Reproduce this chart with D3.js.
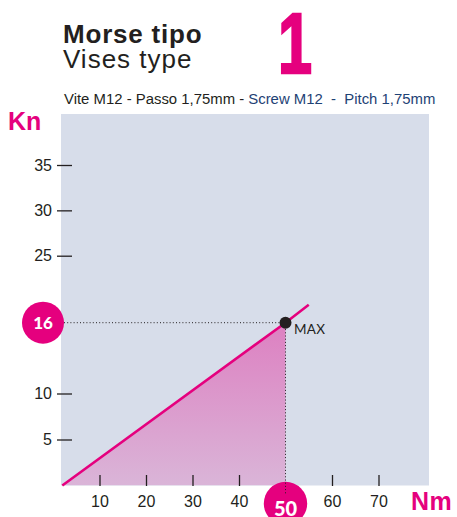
<!DOCTYPE html>
<html>
<head>
<meta charset="utf-8">
<script src="https://cdn.jsdelivr.net/npm/d3@7/dist/d3.min.js"></script>
<style>
  html, body { margin: 0; padding: 0; background: #ffffff; }
  svg { display: block; }
  text { font-family: 'Liberation Sans', Arial, sans-serif; }
  .narrow { font-family: 'Liberation Sans Narrow', 'Arial Narrow', 'Liberation Sans', sans-serif; }
  .round { font-family: 'Lato', 'DejaVu Sans', sans-serif; }
</style>
</head>
<body>
<svg id="chart" width="457" height="517"></svg>
<script>
// Load curve of the vise: clamping force (Kn) against screw torque (Nm)
const xTicks = [10, 20, 30, 40, 60, 70];
const yTicks = [5, 10, 25, 30, 35];
const lineTorque = [2, 50, 55];      // Nm
const lineForce  = [0, 16, 18.4];    // Kn
const maxTorque = 50;
const maxForce = 16;

const titleLines = ["Morse tipo", "Vises type"];
const modelNumber = "1";
const subtitleIt = "Vite M12 - Passo 1,75mm - ";
const subtitleEn = "Screw M12  -  Pitch 1,75mm";
const yUnit = "Kn";
const xUnit = "Nm";

const PINK = "#e5007e";
const INK = "#231f20";
const NAVY = "#1e4275";

const svg = d3.select("#chart");

// plot frame
const plot = { left: 61, top: 114, right: 429, bottom: 485.5 };

const x = d3.scaleLinear().domain([0, 70]).range([53, 378.5]);
// the force axis is drawn schematically: the rated point sits higher than a uniform scale would put it
const y = d3.scaleLinear()
  .domain([0, 10, maxForce, 25, 35])
  .range([485.5, 393.5, 322.7, 255.7, 165]);

// titles
svg.append("text").attr("x", 63).attr("y", 43.3)
  .attr("font-weight", 700)
  .attr("font-size", 26).attr("letter-spacing", 0.8).attr("fill", INK).text(titleLines[0]);
svg.append("text").attr("x", 63).attr("y", 68)
  .attr("font-weight", 400)
  .attr("font-size", 26).attr("letter-spacing", 1.0).attr("fill", INK).text(titleLines[1]);
// big model number, narrowed to a condensed heavy figure
svg.append("text")
  .attr("transform", "translate(295,73) scale(0.72,1)")
  .attr("text-anchor", "middle")
  .attr("font-weight", 700)
  .attr("font-size", 85).attr("fill", PINK)
  .attr("stroke", PINK).attr("stroke-width", 2.5).attr("stroke-linejoin", "miter")
  .text(modelNumber);

const sub = svg.append("text").attr("x", 64).attr("y", 104)
  .attr("font-size", 14.9);
sub.append("tspan").attr("fill", INK).text(subtitleIt);
sub.append("tspan").attr("fill", NAVY).attr("xml:space", "preserve").text(subtitleEn);

// axis unit labels
svg.append("text").attr("x", 8).attr("y", 130)
  .attr("font-weight", 700)
  .attr("font-size", 25).attr("fill", PINK).text(yUnit);
svg.append("text").attr("x", 411).attr("y", 509.5)
  .attr("font-weight", 700)
  .attr("font-size", 25).attr("letter-spacing", 0.5).attr("fill", PINK).text(xUnit);

// plot background
svg.append("rect")
  .attr("x", plot.left).attr("y", plot.top)
  .attr("width", plot.right - plot.left).attr("height", plot.bottom - plot.top)
  .attr("fill", "#d7ddea");

const defs = svg.append("defs");
const grad = defs.append("linearGradient").attr("id", "areaFill")
  .attr("x1", 0).attr("y1", 0).attr("x2", 0).attr("y2", 1);
grad.append("stop").attr("offset", "0%").attr("stop-color", "#dd80c1");
grad.append("stop").attr("offset", "100%").attr("stop-color", "#dab5d8");

defs.append("clipPath").attr("id", "plotClip").append("rect")
  .attr("x", plot.left).attr("y", plot.top)
  .attr("width", plot.right - plot.left).attr("height", plot.bottom - plot.top);

// working range: area under the curve up to the rated torque
const areaPts = lineTorque.map((t, i) => ({ t, f: lineForce[i] })).filter(d => d.t <= maxTorque);
svg.append("path")
  .datum(areaPts)
  .attr("clip-path", "url(#plotClip)")
  .attr("fill", "url(#areaFill)")
  .attr("d", d3.area().x(d => x(d.t)).y0(y(0)).y1(d => y(d.f)));

// axes
const yAxis = svg.append("g")
  .attr("transform", "translate(72,0)")
  .call(d3.axisLeft(y).tickValues(yTicks).tickSize(15).tickPadding(5).tickFormat(d3.format("d")));
const xAxis = svg.append("g")
  .attr("transform", "translate(0,475)")
  .call(d3.axisBottom(x).tickValues(xTicks).tickSize(11).tickPadding(9.5).tickFormat(d3.format("d")));
[yAxis, xAxis].forEach(g => {
  g.attr("font-family", null);
  g.select(".domain").remove();
  g.selectAll(".tick line").attr("stroke", INK).attr("stroke-width", 1.3);
  g.selectAll(".tick text").attr("class", "narrow").attr("font-size", 16).attr("fill", INK);
});

// load line
svg.append("path")
  .datum(lineTorque.map((t, i) => ({ t, f: lineForce[i] })))
  .attr("fill", "none").attr("stroke", PINK).attr("stroke-width", 2.6)
  .attr("d", d3.line().x(d => x(d.t)).y(d => y(d.f)));

// reference circles on the axes
svg.append("circle").attr("cx", 43).attr("cy", y(maxForce)).attr("r", 21).attr("fill", PINK);
svg.append("text").attr("class", "round").attr("x", 43).attr("y", y(maxForce) + 6)
  .attr("text-anchor", "middle").attr("font-weight", 900)
  .attr("font-size", 17).attr("fill", "#ffffff").text(maxForce);

svg.append("circle").attr("cx", x(maxTorque)).attr("cy", 503.5).attr("r", 21.7).attr("fill", PINK);

// dotted leaders to the rated point
svg.append("line")
  .attr("x1", 64).attr("x2", x(maxTorque))
  .attr("y1", y(maxForce)).attr("y2", y(maxForce))
  .attr("stroke", INK).attr("stroke-width", 1).attr("stroke-dasharray", "1,2.2");
svg.append("line")
  .attr("x1", x(maxTorque)).attr("x2", x(maxTorque))
  .attr("y1", y(maxForce)).attr("y2", 495)
  .attr("stroke", INK).attr("stroke-width", 1).attr("stroke-dasharray", "1,2.2");

svg.append("text").attr("class", "round").attr("x", x(maxTorque)).attr("y", 516)
  .attr("text-anchor", "middle").attr("font-weight", 900)
  .attr("font-size", 20).attr("fill", "#ffffff").text(maxTorque);

// rated point
svg.append("circle").attr("cx", x(maxTorque)).attr("cy", y(maxForce)).attr("r", 6).attr("fill", INK);
svg.append("text").attr("class", "round").attr("x", x(maxTorque) + 8.5).attr("y", y(maxForce) + 11.5)
  .attr("font-size", 13.5).attr("letter-spacing", 0.3).attr("fill", INK).text("MAX");
</script>
</body>
</html>
